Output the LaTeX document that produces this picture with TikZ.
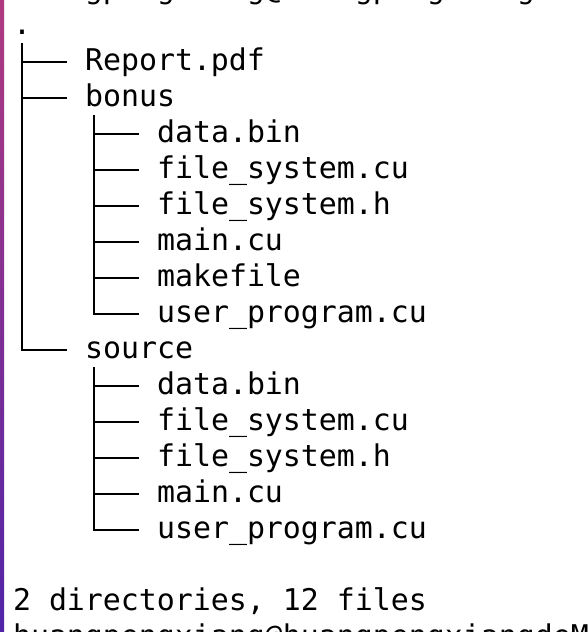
\documentclass[tikz,border=0pt]{standalone}
\usepackage{fontspec}
\newfontfamily\termfont{DejaVu Sans Mono}
\definecolor{stripTop}{RGB}{176,58,128}
\definecolor{stripMid}{RGB}{128,40,150}
\definecolor{stripBot}{RGB}{80,36,168}
\begin{document}
\begin{tikzpicture}[x=1pt,y=-1pt,
  txt/.style={anchor=base west,inner sep=0pt,outer sep=0pt,
    font=\termfont\fontsize{29.9}{36}\selectfont,text=black},
  treeline/.style={line width=2pt,black,line cap=butt,line join=miter}]
\useasboundingbox (0,0) rectangle (588,632);
\fill[white] (0,0) rectangle (588,632);
\clip (0,0) rectangle (588,632);
\shade[top color=stripTop,middle color=stripMid,bottom color=stripBot] (0,0) rectangle (4,632);

% cut-off previous prompt line
\node[txt] (prev) at (13,-1.5) {huangpengxiang@huangpengxiangdeM};

% tree
\node[txt] (root) at (13,34.5) {.};
\node[txt] (report) at (85,70.5) {Report.pdf};
\node[txt] (bonus) at (85,106.5) {bonus};
\node[txt] (b1) at (157,142.5) {data.bin};
\node[txt] (b2) at (157,178.5) {file\_system.cu};
\node[txt] (b3) at (157,214.5) {file\_system.h};
\node[txt] (b4) at (157,250.5) {main.cu};
\node[txt] (b5) at (157,286.5) {makefile};
\node[txt] (b6) at (157,322.5) {user\_program.cu};
\node[txt] (source) at (85,358.5) {source};
\node[txt] (s1) at (157,394.5) {data.bin};
\node[txt] (s2) at (157,430.5) {file\_system.cu};
\node[txt] (s3) at (157,466.5) {file\_system.h};
\node[txt] (s4) at (157,502.5) {main.cu};
\node[txt] (s5) at (157,538.5) {user\_program.cu};

\node[txt] (summary) at (13,610.0) {2 directories, 12 files};
\node[txt] (prompt) at (13,646.0) {huangpengxiang@huangpengxiangdeM};

% vertical starts
\coordinate (rootv) at ([xshift=9pt,yshift=-8.5pt]root.base west);
\coordinate (bonusv) at ([xshift=9pt,yshift=-8.5pt]bonus.base west);
\coordinate (sourcev) at ([xshift=9pt,yshift=-8.5pt]source.base west);

% branches
\foreach \c in {report,bonus,source}
  \draw[treeline] (rootv) |- ([xshift=-18pt,yshift=8.5pt]\c.base west);
\foreach \c in {b1,b2,b3,b4,b5,b6}
  \draw[treeline] (bonusv) |- ([xshift=-18pt,yshift=8.5pt]\c.base west);
\foreach \c in {s1,s2,s3,s4,s5}
  \draw[treeline] (sourcev) |- ([xshift=-18pt,yshift=8.5pt]\c.base west);
\end{tikzpicture}
\end{document}
